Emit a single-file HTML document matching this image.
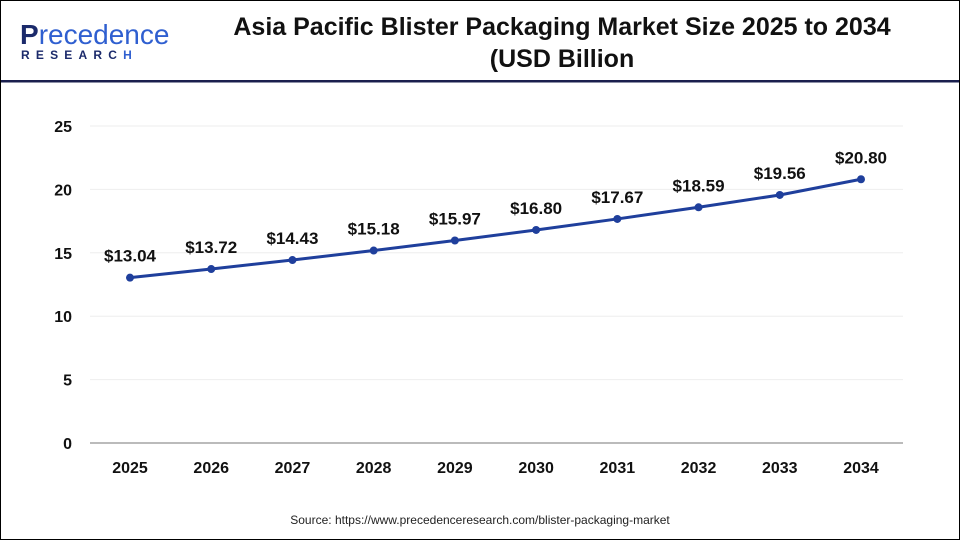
<!DOCTYPE html>
<html><head><meta charset="utf-8"><style>
body{margin:0;background:#fff;}
#wrap{position:relative;width:958px;height:538px;border:1px solid #000;overflow:hidden;font-family:"Liberation Sans",sans-serif;}
</style></head><body>
<div id="wrap">
<svg width="958" height="538" viewBox="1 1 958 538" id="svg">
<g>
<text x="20" y="44" font-size="28" font-weight="bold" fill="#1b2a6b" font-family="Liberation Sans, sans-serif">P<tspan fill="#2f5fd0" font-weight="normal">recedence</tspan></text>
<text x="21" y="59" font-size="12" font-weight="bold" fill="#1b2a6b" letter-spacing="6.2">RESEARC<tspan fill="#2f5fd0">H</tspan></text>
</g>
<text x="562" y="35" text-anchor="middle" font-size="25" font-weight="bold" fill="#111">Asia Pacific Blister Packaging Market Size 2025 to 2034</text>
<text x="562" y="67" text-anchor="middle" font-size="25" font-weight="bold" fill="#111">(USD Billion</text>
<rect x="1" y="80" width="958" height="2.5" fill="#1a1f4e"/>
<g id="grid"></g><g id="plot"></g>
<text x="480" y="524" text-anchor="middle" font-size="12" fill="#222">Source: https://www.precedenceresearch.com/blister-packaging-market</text>
</svg></div>
<script>
const categories=["2025","2026","2027","2028","2029","2030","2031","2032","2033","2034"];
const values=[13.04,13.72,14.43,15.18,15.97,16.80,17.67,18.59,19.56,20.80];
const labels=["$13.04","$13.72","$14.43","$15.18","$15.97","$16.80","$17.67","$18.59","$19.56","$20.80"];
const yTicks=[0,5,10,15,20,25];
const NS="http://www.w3.org/2000/svg";
const y=v=>443-v*(317/25);
const x=i=>130+i*(731/9);
function mk(t,a,p){const e=document.createElementNS(NS,t);for(const k in a)e.setAttribute(k,a[k]);p.appendChild(e);return e;}
const g=document.getElementById('grid'),p=document.getElementById('plot');
yTicks.forEach(t=>{
 const l=mk('line',{x1:90,x2:903,y1:y(t),y2:y(t),stroke:t===0?'#bbb':'#eee','stroke-width':t===0?2:1},g);
 
 
 const tx=mk('text',{x:72,y:y(t)+6,'text-anchor':'end','font-size':16,'font-weight':'bold',fill:'#111'},g);
 tx.textContent=t;
 
 
});
categories.forEach((c,i)=>{
 const tx=mk('text',{x:x(i),y:473,'text-anchor':'middle','font-size':16,'font-weight':'bold',fill:'#111'},g);
 tx.textContent=c;
 
 
});
const pl=mk('polyline',{points:values.map((v,i)=>x(i)+','+y(v)).join(' '),fill:'none',stroke:'#1f3f9c','stroke-width':3},p);


values.forEach((v,i)=>{
 const c=mk('circle',{cx:x(i),cy:y(v),r:4,fill:'#1f3f9c'},p);
 
 
 const t=mk('text',{x:x(i),y:y(v)-16,'text-anchor':'middle','font-size':17,'font-weight':'bold',fill:'#111'},p);
 t.textContent=labels[i];
 
 
});
</script>
</body></html>
